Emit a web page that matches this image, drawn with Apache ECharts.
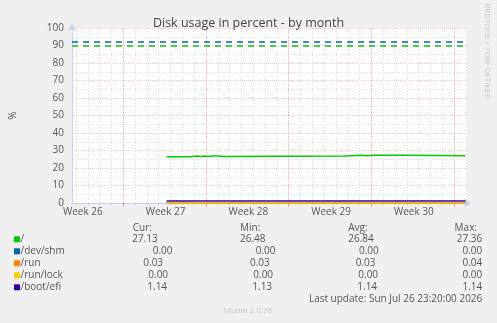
<!DOCTYPE html>
<html><head><meta charset="utf-8">
<script src="https://cdn.jsdelivr.net/npm/echarts@6/dist/echarts.min.js"></script>
<style>html,body{margin:0;padding:0;background:#f0f0f0}#c{width:497px;height:323px}</style>
</head><body><div id="c"></div><script>
// x unit: hours since the left edge of the plot (the month graph spans 802 h)
const X_MAX = 802;
const seriesNames = ['/', '/dev/shm', '/run', '/run/lock', '/boot/efi'];
const seriesColors = ['#00cc00', '#0066b3', '#ff8000', '#ffcc00', '#330099'];

const rootTimes  = [192, 213, 217, 241, 254, 262, 271, 276, 285, 289, 298, 305, 553, 591, 597, 612, 616, 620, 624, 673, 799];
const rootValues = [26.48, 26.8, 26.5, 26.85, 26.55, 26.85, 26.55, 26.85, 26.55, 26.85, 26.55, 26.85, 27.3, 26.95, 27.3, 26.95, 27.3, 26.95, 27.3, 26.95, 27.13];
const shmTimes  = [192, 799];  const shmValues  = [0, 0];
const runTimes  = [192, 799];  const runValues  = [0.03, 0.03];
const lockTimes = [192, 799];  const lockValues = [0, 0];
const efiTimes  = [192, 799];  const efiValues  = [1.14, 1.14];

const thresholdRoot = 90;
const thresholdShm = 92;

const weekLines = [104, 272, 440, 608, 776];
const dayLines = []; for (let d = 8; d <= 800; d += 24) dayLines.push(d);
const weekLabelPos = [22, 190, 358, 526, 694];
const weekLabels = ['Week 26', 'Week 27', 'Week 28', 'Week 29', 'Week 30'];

const curValues = [27.13, 0.00, 0.03, 0.00, 1.14];
const minValues = [26.48, 0.00, 0.03, 0.00, 1.13];
const avgValues = [26.84, 0.00, 0.03, 0.00, 1.14];
const maxValues = [27.36, 0.00, 0.04, 0.00, 1.14];
const lastUpdate = 'Last update: Sun Jul 26 23:20:00 2026';

const FONT = '"Open Sans", "DejaVu Sans", sans-serif';
const zip = (t, v) => t.map((x, i) => [x, v[i]]);
const seriesData = [zip(rootTimes, rootValues), zip(shmTimes, shmValues), zip(runTimes, runValues), zip(lockTimes, lockValues), zip(efiTimes, efiValues)];
const thresholds = { 0: thresholdRoot, 1: thresholdShm };

const redGrid = { color: 'rgba(235,120,120,0.45)', width: 1, type: [1, 1] };
const grayGrid = { color: 'rgba(160,160,160,0.4)', width: 1, type: [1, 2] };
const axisBlue = '#c6cff5';

const series = seriesNames.map((name, i) => {
  const s = {
    name, type: 'line', step: 'end', data: seriesData[i], showSymbol: false,
    lineStyle: { color: seriesColors[i], width: 1.5 }, itemStyle: { color: seriesColors[i] },
    xAxisIndex: 0, z: 3 + i, silent: true
  };
  if (thresholds[i] !== undefined) {
    s.markLine = { silent: true, symbol: 'none', label: { show: false },
      lineStyle: { color: seriesColors[i], type: [6, 5], width: 1.5 },
      data: [{ yAxis: thresholds[i] }] };
  }
  return s;
});

// legend table (munin-style)
const colCurX = [132.3, 152.7, 143.3, 148.3, 147.3];
const colMinX = [240, 255.7, 250, 253.3, 252.3];
const colAvgX = [348.3, 359, 355.7, 358.3, 357.3];
const rowY = [239.3, 251.3, 263.3, 275.3, 287.3];
const txt = (text, x, y, opts = {}) => ({
  type: 'text', x, y, silent: true,
  style: Object.assign({ text, font: '10px ' + FONT, fill: '#555', textAlign: 'left', textVerticalAlign: 'middle' }, opts)
});
const graphics = [];
graphics.push(txt('Cur:', 132.7, 227.7), txt('Min:', 240, 227.7), txt('Avg:', 348.3, 227.7), txt('Max:', 477, 227.7, { textAlign: 'right' }));
seriesNames.forEach((n, i) => {
  graphics.push({ type: 'rect', silent: true, shape: { x: 14, y: rowY[i] - 3, width: 6, height: 6 }, style: { fill: seriesColors[i] } });
  graphics.push(txt(n, 20.5, rowY[i]));
  graphics.push(txt(curValues[i].toFixed(2), colCurX[i], rowY[i]));
  graphics.push(txt(minValues[i].toFixed(2), colMinX[i], rowY[i]));
  graphics.push(txt(avgValues[i].toFixed(2), colAvgX[i], rowY[i]));
  graphics.push(txt(maxValues[i].toFixed(2), 482.3, rowY[i], { textAlign: 'right' }));
});
graphics.push(txt(lastUpdate, 482.3, 299.3, { textAlign: 'right' }));
graphics.push(txt('Munin 2.0.76', 248, 311, { textAlign: 'center', font: '8px ' + FONT, fill: '#c4c4c4' }));
graphics.push({ type: 'text', x: 487, y: 51, rotation: -Math.PI / 2, silent: true,
  style: { text: 'RRDTOOL / TOBI OETIKER', font: '8px ' + FONT, fill: '#c8c8c8', textAlign: 'center', textVerticalAlign: 'middle' } });

const chart = echarts.init(document.getElementById('c'), null, { renderer: 'canvas' });
chart.setOption({
  animation: false,
  backgroundColor: '#f0f0f0',
  title: { text: 'Disk usage in percent - by month', left: 'center', top: 12,
    textStyle: { fontFamily: FONT, fontSize: 12.5, fontWeight: 'normal', color: '#444' } },
  grid: { left: 66, right: 30, top: 28, bottom: 120, show: true, backgroundColor: '#ffffff', borderWidth: 0 },
  xAxis: [
    { type: 'value', min: 0, max: X_MAX, position: 'bottom',
      axisLine: { show: true, onZero: false, lineStyle: { color: axisBlue, width: 1 }, symbol: ['none', 'arrow'], symbolSize: [7, 7], symbolOffset: [0, 4] },
      axisTick: { show: true, customValues: dayLines, length: 2, lineStyle: { color: '#c8c8c8' } },
      axisLabel: { show: false },
      splitLine: { show: true, lineStyle: grayGrid } },
    { type: 'value', min: 0, max: X_MAX, position: 'bottom',
      axisLine: { show: false, onZero: false },
      axisTick: { show: true, customValues: weekLines, length: 4, lineStyle: { color: 'rgba(235,110,110,0.6)' } },
      axisLabel: { show: true, customValues: weekLabelPos, margin: 4, color: '#555', fontSize: 10, fontFamily: FONT,
        formatter: v => weekLabels[weekLabelPos.indexOf(v)] || '' },
      splitLine: { show: true, lineStyle: redGrid } }
  ],
  yAxis: { type: 'value', min: 0, max: 100, interval: 10,
    name: '%', nameLocation: 'middle', nameGap: 54, nameRotate: 90,
    nameTextStyle: { color: '#555', fontSize: 10, fontFamily: FONT },
    axisLine: { show: true, lineStyle: { color: axisBlue, width: 1 }, symbol: ['none', 'arrow'], symbolSize: [7, 7], symbolOffset: [0, 4] },
    axisTick: { show: false },
    axisLabel: { color: '#555', fontSize: 10, fontFamily: FONT, margin: 8 },
    splitLine: { show: true, lineStyle: redGrid },
    minorTick: { show: false, splitNumber: 2 },
    minorSplitLine: { show: true, lineStyle: grayGrid } },
  series,
  graphic: graphics
});
</script></body></html>
